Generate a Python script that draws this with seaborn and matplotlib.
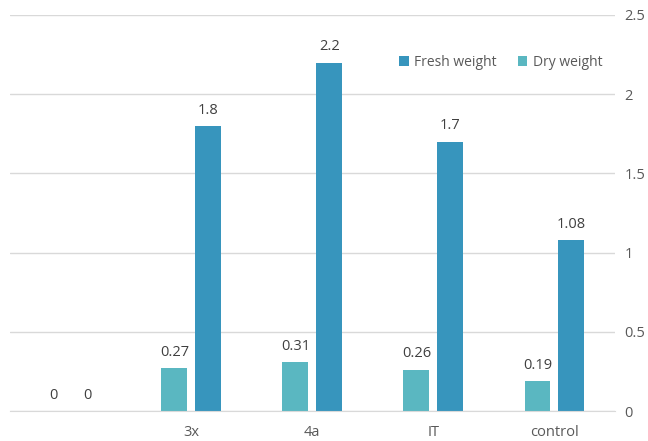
import pandas as pd
import seaborn as sns
import matplotlib.pyplot as plt

# data
samples = [" ", "3x", "4a", "IT", "control"]
dry_weight = [0, 0.27, 0.31, 0.26, 0.19]
fresh_weight = [0, 1.8, 2.2, 1.7, 1.08]

data = pd.DataFrame({
    "sample": samples * 2,
    "weight": dry_weight + fresh_weight,
    "type": ["Dry weight"] * len(samples) + ["Fresh weight"] * len(samples),
})

sns.set_style("white")
plt.rcParams["font.family"] = ["Open Sans", "DejaVu Sans"]

fig = plt.figure(figsize=(6.48, 4.41), dpi=100)
ax = fig.add_axes([0.015, 0.068, 0.934, 0.898])

sns.barplot(
    data=data, x="sample", y="weight", hue="type",
    order=samples, hue_order=["Dry weight", "Fresh weight"],
    palette={"Dry weight": "#5ab7c1", "Fresh weight": "#3795bd"},
    saturation=1, linewidth=0,
    width=0.56, gap=0.235, ax=ax,
)

# value labels
for cont in ax.containers:
    ax.bar_label(cont, labels=[f"{v:g}" for v in cont.datavalues],
                 padding=6, fontsize=10.5, color="#404040")

ax.set_ylim(0, 2.5)
ax.set_yticks([0, 0.5, 1, 1.5, 2, 2.5])
ax.set_yticklabels(["0", "0.5", "1", "1.5", "2", "2.5"])
ax.yaxis.tick_right()
ax.tick_params(axis="y", length=0, pad=7, labelsize=10.5, labelcolor="#595959")
ax.tick_params(axis="x", length=0, pad=10, labelsize=10.5, labelcolor="#595959")
ax.grid(axis="y", color="#d9d9d9", linewidth=1)
ax.set_axisbelow(True)
for side in ["top", "left", "right"]:
    ax.spines[side].set_visible(False)
ax.spines["bottom"].set_color("#d9d9d9")
ax.set_xlabel("")
ax.set_ylabel("")

# legend: Fresh weight first
handles, labels = ax.get_legend_handles_labels()
ax.legend(handles[::-1], labels[::-1], loc="upper right", bbox_to_anchor=(1.0, 0.93),
          ncol=2, frameon=False, fontsize=10, handlelength=0.7, handleheight=0.7,
          handletextpad=0.4, columnspacing=1.5, labelcolor="#595959")

fig.savefig("out.png", dpi=100)
